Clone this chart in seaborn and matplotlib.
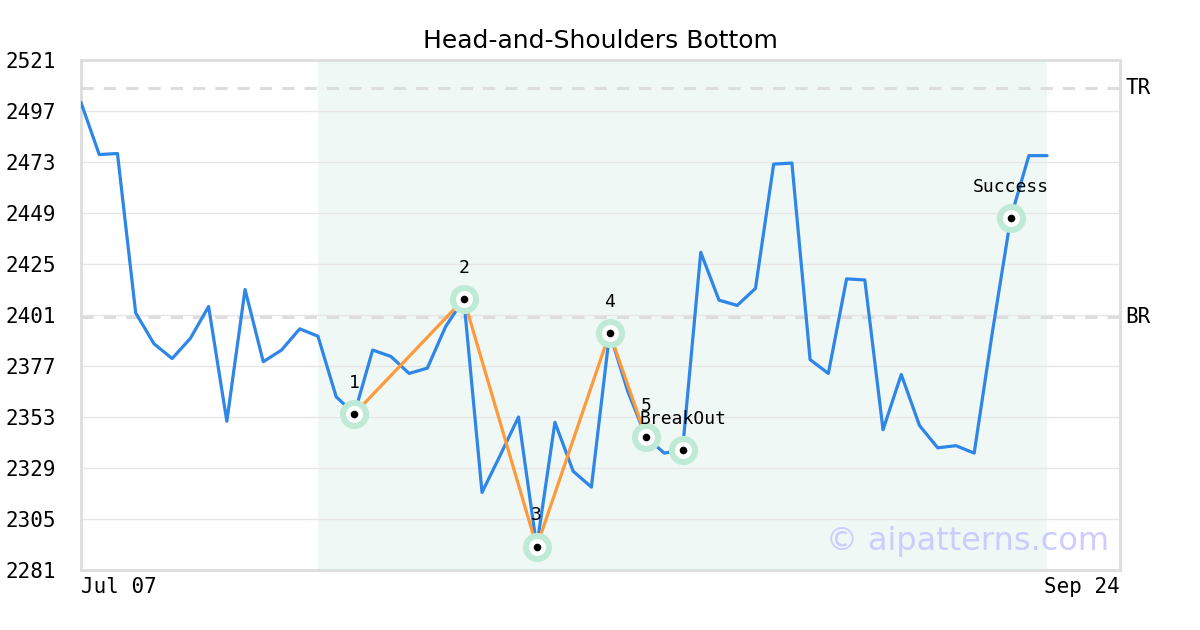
import numpy as np
import matplotlib
matplotlib.use('Agg')
import matplotlib.pyplot as plt
import matplotlib.transforms as mtransforms
import seaborn as sns

#Closing prices, one per trading day starting Jul 07
close = [2501, 2476.5, 2477, 2402, 2387.5, 2380.5, 2390, 2405, 2351, 2413,
         2379, 2384.5, 2394.5, 2391, 2362.5, 2354.5, 2384.5, 2381.5, 2373.5, 2376,
         2395.5, 2408.5, 2317.5, 2335, 2353, 2292, 2350.5, 2327.5, 2320, 2392.5,
         2365, 2343.5, 2336, 2337.5, 2430.5, 2408, 2405.5, 2413.5, 2472, 2472.5,
         2380, 2373.5, 2418, 2417.5, 2347, 2373, 2349, 2338.5, 2339.5, 2336,
         2393, 2446.5, 2476, 2476]

#Pattern pivots (index into close) and their labels
pivot_idx = [15, 21, 25, 29, 31]
pivot_lbl = ['1', '2', '3', '4', '5']

#Signal points
signal_idx = [33, 51]
signal_lbl = ['BreakOut', 'Success']

#Resistance levels
level_val = [2508, 2400]
level_lbl = ['TR', 'BR']

#Pattern window and axis extent (trading-day index)
window = [13, 53]
x_end = 57
date_lbl = ['Jul 07', 'Sep 24']
y_ticks = [2281, 2305, 2329, 2353, 2377, 2401, 2425, 2449, 2473, 2497, 2521]

mono = 'DejaVu Sans Mono'
days = np.arange(len(close))

sns.set_style('white')
plt.rcParams['font.family'] = ['DejaVu Sans']
plt.rcParams['text.color'] = 'black'
plt.rcParams['xtick.color'] = 'black'
plt.rcParams['ytick.color'] = 'black'

f, ax = plt.subplots(figsize=(12, 6.3), dpi=100)
f.subplots_adjust(left=81/1200, right=1120/1200, bottom=60/630, top=570/630)

#Pattern window shading
ax.axvspan(window[0], window[1], color='#eff8f4', zorder=0, lw=0)

#Resistance lines
for v in level_val:
    ax.axhline(v, color='#dddddd', lw=2.2, dashes=(4, 3.3), zorder=1)

#Price line
sns.lineplot(x=days, y=close, ax=ax, color='#2e86e8', lw=2.3, zorder=3)

#Head-and-shoulders outline
pv_x = [days[i] for i in pivot_idx]
pv_y = [close[i] for i in pivot_idx]
sns.lineplot(x=pv_x, y=pv_y, ax=ax, color='#ff9a3c', lw=2.3, zorder=4, sort=False)

#Markers for pivots and signals
mk_idx = pivot_idx + signal_idx
mk_lbl = pivot_lbl + signal_lbl
mk_x = [days[i] for i in mk_idx]
mk_y = [close[i] for i in mk_idx]
sns.scatterplot(x=mk_x, y=mk_y, ax=ax, s=440, color='#bfead6', linewidth=0, zorder=5)
sns.scatterplot(x=mk_x, y=mk_y, ax=ax, s=150, color='white', linewidth=0, zorder=6)
sns.scatterplot(x=mk_x, y=mk_y, ax=ax, s=30, color='black', linewidth=0, zorder=7)
for x, y, t in zip(mk_x, mk_y, mk_lbl):
    ax.annotate(t, (x, y), xytext=(0, 22.5), textcoords='offset points',
                ha='center', va='center', fontsize=13, family=mono, zorder=8)

#Level labels on the right
trans = mtransforms.blended_transform_factory(ax.transAxes, ax.transData)
for v, t in zip(level_val, level_lbl):
    ax.text(1.005, v, t, transform=trans, ha='left', va='center',
            fontsize=15, family=mono)

#Axes, grid, ticks
ax.set_xlim(0, x_end)
ax.set_ylim(y_ticks[0], y_ticks[-1])
ax.set_yticks(y_ticks)
ax.set_yticklabels([str(t) for t in y_ticks], family=mono, fontsize=15)
ax.set_xticks([0, x_end])
ax.set_xticklabels(date_lbl, family=mono, fontsize=15)
xl = ax.get_xticklabels()
xl[0].set_ha('left')
xl[1].set_ha('right')
ax.tick_params(axis='y', length=0, pad=18)
ax.tick_params(axis='x', length=0, pad=5)
ax.yaxis.grid(True, color='#e6e6e6', lw=1)
ax.set_axisbelow(True)
for s in ax.spines.values():
    s.set_color('#dddddd')
    s.set_linewidth(2)

ax.set_title('Head-and-Shoulders Bottom', fontsize=18, pad=9, color='black')

#Watermark
ax.text(0.99, 0.055, '\u00a9 aipatterns.com', transform=ax.transAxes,
        ha='right', va='center', fontsize=23, color='#ccccff', zorder=9)

plt.savefig('out.png', dpi=100)
